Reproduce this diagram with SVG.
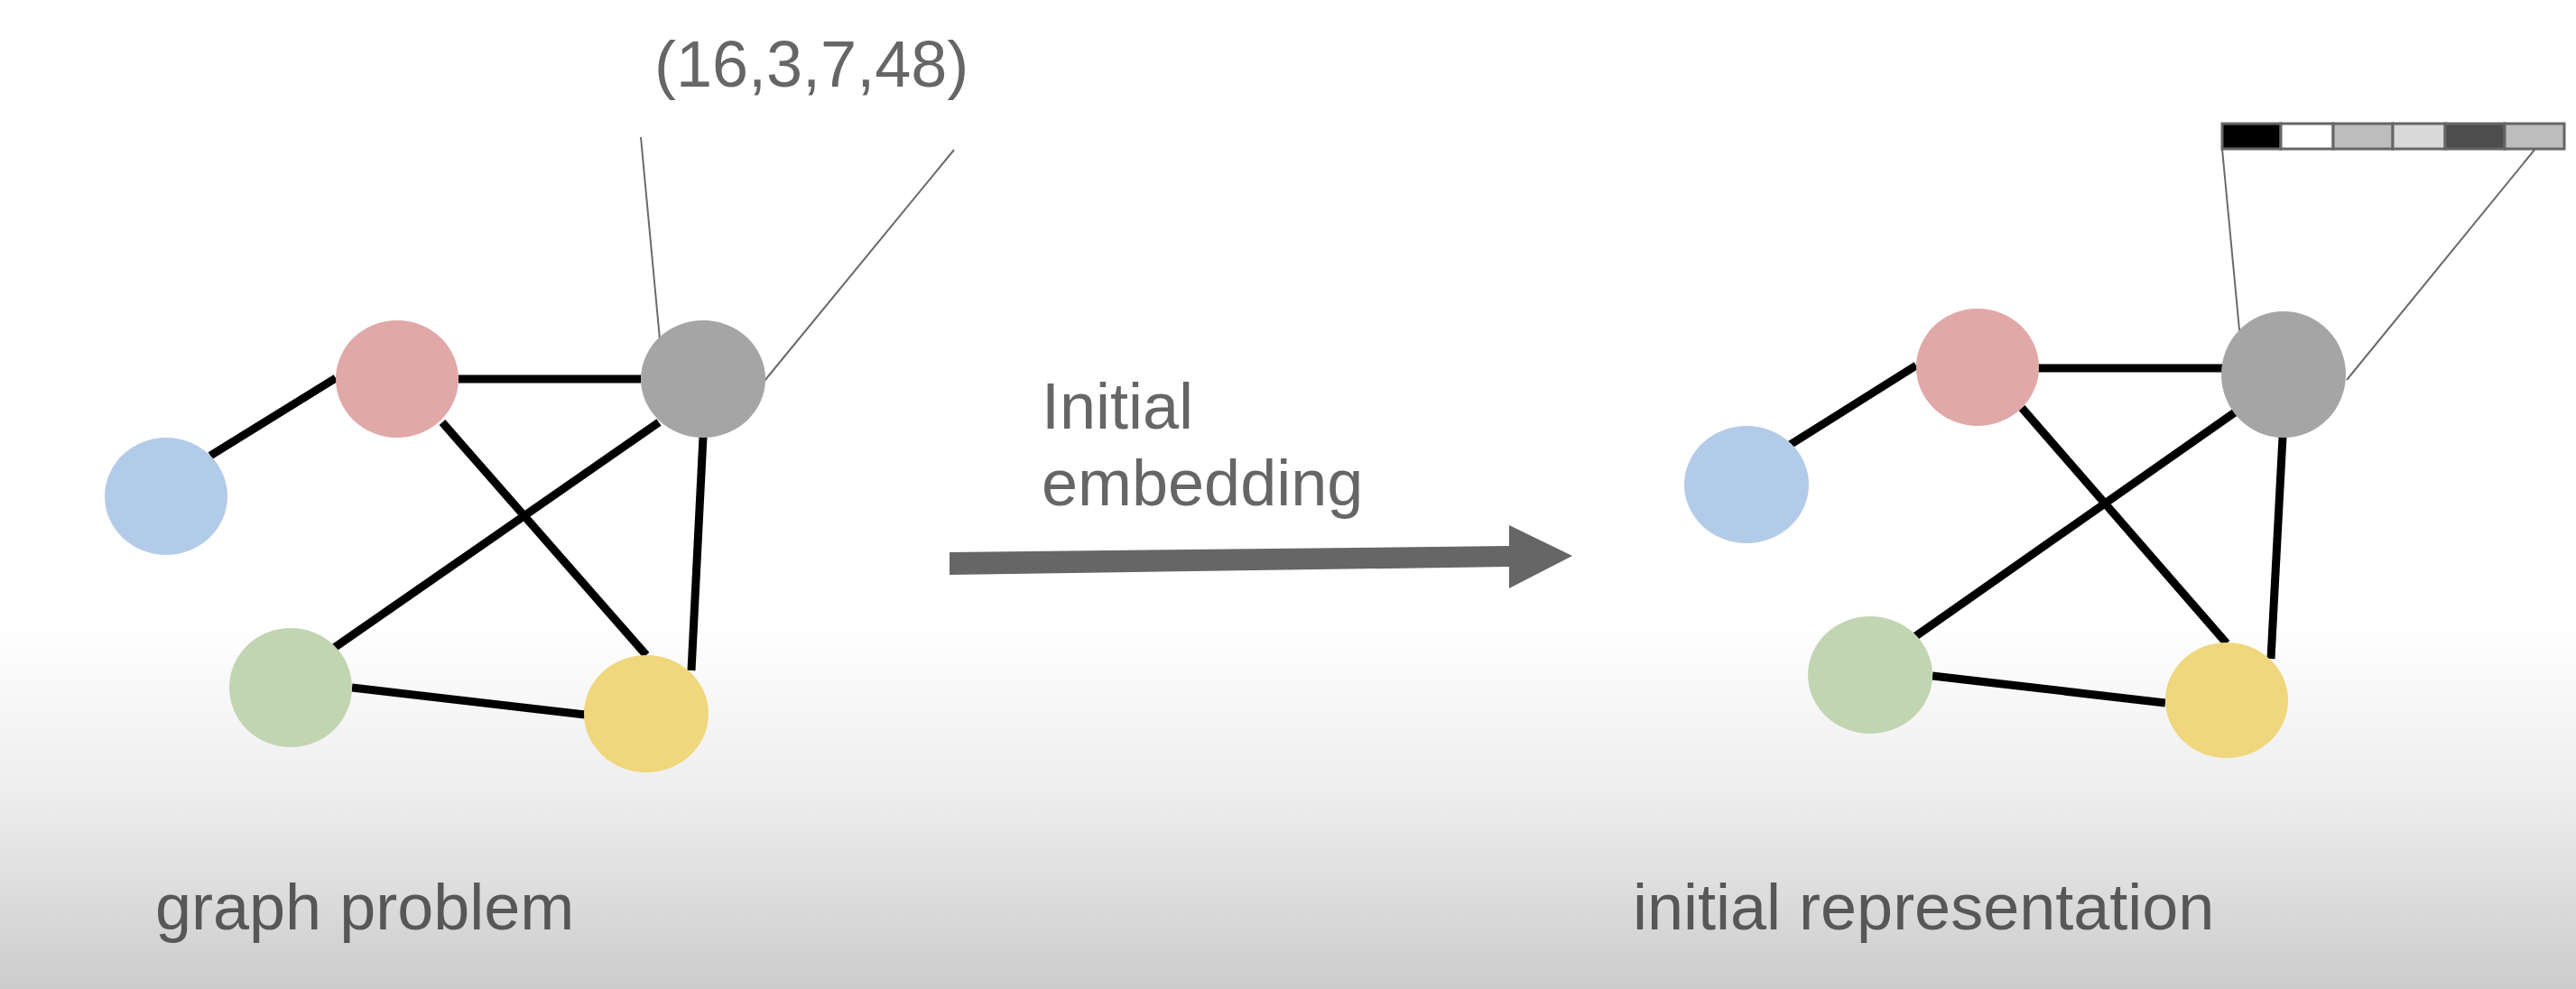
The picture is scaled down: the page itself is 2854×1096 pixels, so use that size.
<svg xmlns="http://www.w3.org/2000/svg" width="2854" height="1096" viewBox="0 0 2854 1096">
<defs>
<linearGradient id="bg" x1="0" y1="0" x2="0" y2="1">
<stop offset="0" stop-color="#ffffff"/>
<stop offset="0.63" stop-color="#ffffff"/>
<stop offset="0.8" stop-color="#eeeeee"/>
<stop offset="1" stop-color="#cccccc"/>
</linearGradient>
</defs>
<style>
.lbl{font-family:"Liberation Sans",Arial,sans-serif;font-size:72px;fill:#666}
.bot{fill:#575757}
.edge{stroke:#000;stroke-width:9;fill:none}
.thin{stroke:#6a6a6a;stroke-width:2;fill:none}
.blue{fill:#b2cbe8}
.red{fill:#e0a8a7}
.gray{fill:#a5a5a5}
.green{fill:#c2d5b2}
.yellow{fill:#f0d67c}
.cell{stroke:#666;stroke-width:3}
</style>
<rect x="0" y="0" width="2854" height="1096" fill="url(#bg)"/>

<g id="connectors">
<line class="edge" x1="233" y1="505" x2="372" y2="419"/>
<line class="edge" x1="508" y1="420" x2="710" y2="420"/>
<line class="edge" x1="490" y1="468" x2="716" y2="726"/>
<line class="edge" x1="730" y1="468" x2="370" y2="718"/>
<line class="edge" x1="779" y1="484" x2="766" y2="743"/>
<line class="edge" x1="390" y1="762" x2="648" y2="792"/>
<line class="thin" x1="710" y1="152" x2="731" y2="376"/>
<line class="thin" x1="1057" y1="166" x2="847" y2="422"/>

<line class="edge" x1="1983" y1="493" x2="2123" y2="405"/>
<line class="edge" x1="2258" y1="408" x2="2462" y2="408"/>
<line class="edge" x1="2240" y1="452" x2="2467" y2="713"/>
<line class="edge" x1="2476" y1="457" x2="2121" y2="706"/>
<line class="edge" x1="2529" y1="484" x2="2516" y2="730"/>
<line class="edge" x1="2141" y1="749" x2="2399" y2="779"/>
<line class="thin" x1="2462" y1="165" x2="2482" y2="376"/>
<line class="thin" x1="2808" y1="166" x2="2600" y2="421"/>

<polygon fill="#666" points="1052,612 1672,605 1672,582 1742,616 1672,652 1672,628 1052,637"/>
</g>

<g id="left-blue"><ellipse class="blue" cx="184" cy="550" rx="68" ry="65"/></g>
<g id="left-red"><ellipse class="red" cx="440" cy="420" rx="68" ry="65"/></g>
<g id="left-gray"><ellipse class="gray" cx="779" cy="420" rx="69" ry="65"/></g>
<g id="left-green"><ellipse class="green" cx="322" cy="762" rx="68" ry="66"/></g>
<g id="left-yellow"><ellipse class="yellow" cx="716" cy="791" rx="69" ry="65"/></g>

<g id="right-blue"><ellipse class="blue" cx="1935" cy="537" rx="69" ry="65"/></g>
<g id="right-red"><ellipse class="red" cx="2191" cy="407" rx="68" ry="65"/></g>
<g id="right-gray"><ellipse class="gray" cx="2530" cy="415" rx="69" ry="70"/></g>
<g id="right-green"><ellipse class="green" cx="2072" cy="748" rx="69" ry="65"/></g>
<g id="right-yellow"><ellipse class="yellow" cx="2467" cy="776" rx="68" ry="64"/></g>

<g id="embedding-vector">
<rect class="cell" x="2462" y="137" width="65" height="28" fill="#000"/>
<rect class="cell" x="2527" y="137" width="58" height="28" fill="#fff"/>
<rect class="cell" x="2585" y="137" width="66" height="28" fill="#bdbdbd"/>
<rect class="cell" x="2651" y="137" width="58" height="28" fill="#d9d9d9"/>
<rect class="cell" x="2709" y="137" width="66" height="28" fill="#4d4d4d"/>
<rect class="cell" x="2775" y="137" width="66" height="28" fill="#bdbdbd"/>
</g>

<g id="labels">
<text class="lbl" x="725" y="96">(16,3,7,48)</text>
<text class="lbl" x="1154" y="475">Initial</text>
<text class="lbl" x="1154" y="560">embedding</text>
<text class="lbl bot" x="172" y="1030">graph problem</text>
<text class="lbl bot" x="1809" y="1030">initial representation</text>
</g>
</svg>
